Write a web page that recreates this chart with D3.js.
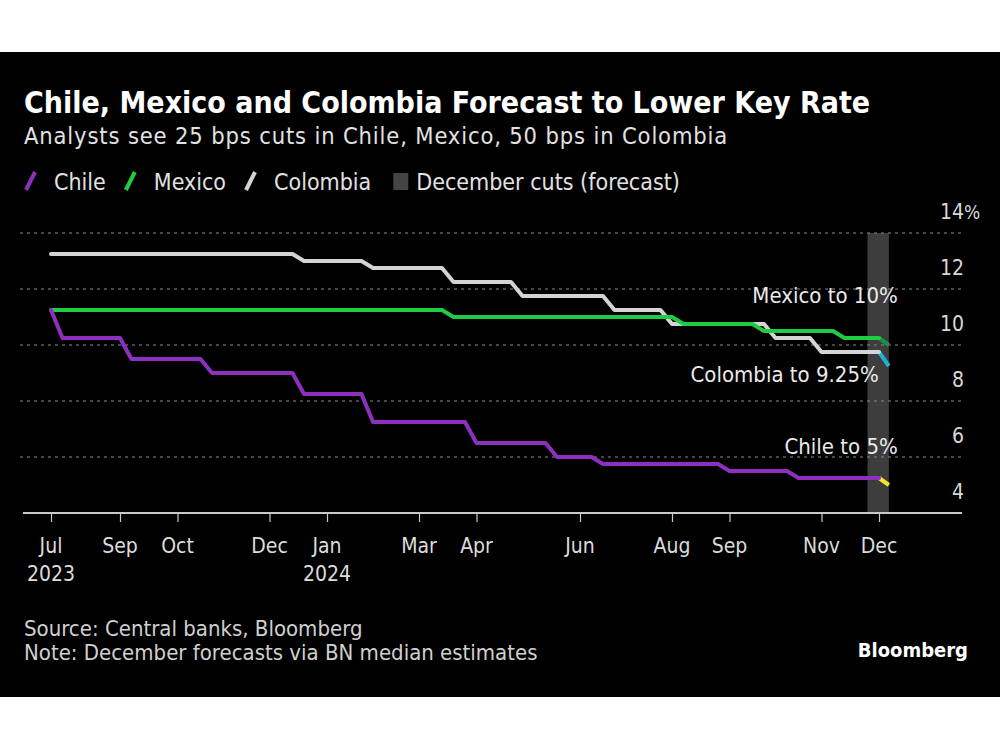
<!DOCTYPE html>
<html><head><meta charset="utf-8">
<script src="https://cdn.jsdelivr.net/npm/d3@7"></script>
<style>
html,body{margin:0;padding:0;background:#fff;}
svg text{font-family:"DejaVu Sans Condensed","DejaVu Sans",sans-serif;font-stretch:condensed;}
</style></head><body>
<svg id="chart" width="1000" height="750"></svg>
<script>
// ---------- DATA ----------
const seriesNames = ["Chile", "Mexico", "Colombia"];
const firstWeek = "2023-07-21";          // weekly observations (Fridays)
const lastActual = "2024-12-06";
const chileRates = [
  11.25,
  10.25,10.25,10.25,10.25,10.25,10.25,
  9.5,9.5,9.5,9.5,9.5,9.5,9.5,
  9.0,9.0,9.0,9.0,9.0,9.0,9.0,9.0,
  8.25,8.25,8.25,8.25,8.25,8.25,
  7.25,7.25,7.25,7.25,7.25,7.25,7.25,7.25,7.25,
  6.5,6.5,6.5,6.5,6.5,6.5,6.5,
  6.0,6.0,6.0,6.0,
  5.75,5.75,5.75,5.75,5.75,5.75,5.75,5.75,5.75,5.75,5.75,
  5.5,5.5,5.5,5.5,5.5,5.5,
  5.25,5.25,5.25,5.25,5.25,5.25,5.25,5.25
];
const mexicoRates = [
  11.25,11.25,11.25,11.25,11.25,11.25,11.25,11.25,11.25,11.25,
  11.25,11.25,11.25,11.25,11.25,11.25,11.25,11.25,11.25,11.25,
  11.25,11.25,11.25,11.25,11.25,11.25,11.25,11.25,11.25,11.25,
  11.25,11.25,11.25,11.25,11.25,
  11.0,11.0,11.0,11.0,11.0,11.0,11.0,11.0,11.0,11.0,
  11.0,11.0,11.0,11.0,11.0,11.0,11.0,11.0,11.0,11.0,
  10.75,10.75,10.75,10.75,10.75,10.75,10.75,
  10.5,10.5,10.5,10.5,10.5,10.5,10.5,
  10.25,10.25,10.25,10.25
];
const colombiaRates = [
  13.25,13.25,13.25,13.25,13.25,13.25,13.25,13.25,13.25,13.25,13.25,
  13.25,13.25,13.25,13.25,13.25,13.25,13.25,13.25,13.25,13.25,13.25,
  13.0,13.0,13.0,13.0,13.0,13.0,
  12.75,12.75,12.75,12.75,12.75,12.75,12.75,
  12.25,12.25,12.25,12.25,12.25,12.25,
  11.75,11.75,11.75,11.75,11.75,11.75,11.75,11.75,
  11.25,11.25,11.25,11.25,11.25,
  10.75,10.75,10.75,10.75,10.75,10.75,10.75,10.75,10.75,
  10.25,10.25,10.25,10.25,
  9.75,9.75,9.75,9.75,9.75,9.75
];
const forecastDate = "2024-12-12";
const forecastRates = [5.0, 10.0, 9.25];
const forecastLabels = ["Chile to 5%", "Mexico to 10%", "Colombia to 9.25%"];
const bandStart = "2024-11-29";
const bandEnd = "2024-12-12";
const tickDates = ["2023-07-21","2023-09-01","2023-10-06","2023-12-01","2024-01-05","2024-03-01",
                   "2024-04-05","2024-06-07","2024-08-02","2024-09-06","2024-11-01","2024-12-06"];
const tickLabels = ["Jul","Sep","Oct","Dec","Jan","Mar","Apr","Jun","Aug","Sep","Nov","Dec"];
const tickYears  = ["2023","","","","2024","","","","","","",""];
const yTicks = [4, 6, 8, 10, 12, 14];
const legendLabels = ["Chile", "Mexico", "Colombia", "December cuts (forecast)"];

// ---------- STYLE ----------
const lineColors = ["#8d2fbf", "#22cc42", "#d4d4d4"];
const forecastColors = ["#f2e52c", "#14914a", "#1fb0d4"];
const bandColor = "#3d3d3d";

const svg = d3.select("#chart");
const parse = d3.utcParse("%Y-%m-%d");

svg.append("rect").attr("x",0).attr("y",52).attr("width",1000).attr("height",645).attr("fill","#000");

const x = d3.scaleUtc().domain([parse(firstWeek), parse(lastActual)]).range([51, 879]);
const y = d3.scaleLinear().domain([4, 14]).range([513, 233]);

const weekDates = chileRates.map((_, i) => d3.utcDay.offset(parse(firstWeek), 7 * i));
const allRates = [chileRates, mexicoRates, colombiaRates];
const series = seriesNames.map((name, k) => ({
  name, color: lineColors[k], fcolor: forecastColors[k],
  values: allRates[k].map((v, i) => ({date: weekDates[i], value: v})),
  forecast: {date: parse(forecastDate), value: forecastRates[k]}
}));

// titles
svg.append("text").attr("x",24).attr("y",113).attr("fill","#fff")
  .attr("font-size",30).attr("font-weight","bold")
  .text("Chile, Mexico and Colombia Forecast to Lower Key Rate");
svg.append("text").attr("x",24).attr("y",144).attr("fill","#e2e2e2")
  .attr("font-size",23.5).attr("letter-spacing",0.85)
  .text("Analysts see 25 bps cuts in Chile, Mexico, 50 bps in Colombia");

// legend
const lg = svg.append("g");
let lx = 23;
legendLabels.forEach((lab, k) => {
  if (k < 3) {
    lg.append("line").attr("x1", lx + 3).attr("y1", 190).attr("x2", lx + 12).attr("y2", 172)
      .attr("stroke", lineColors[k]).attr("stroke-width", 4);
    const t = lg.append("text").attr("x", lx + 31).attr("y", 190).attr("fill","#e2e2e2")
      .attr("font-size", 23).text(lab);
    lx = lx + 31 + t.node().getComputedTextLength() + 17;
  } else {
    lx += 5;
    lg.append("rect").attr("x", lx).attr("y", 173).attr("width", 15).attr("height", 17).attr("fill", "#444");
    lg.append("text").attr("x", lx + 23).attr("y", 190).attr("fill","#e2e2e2")
      .attr("font-size", 23).text(lab);
  }
});

// band
svg.append("rect").attr("x", x(parse(bandStart))).attr("y", y(14))
  .attr("width", x(parse(bandEnd)) - x(parse(bandStart))).attr("height", y(4) - y(14))
  .attr("fill", bandColor);

// grid
const grid = svg.append("g");
yTicks.forEach(v => {
  if (v > 4) {
    grid.append("line").attr("x1", 20).attr("x2", 963).attr("y1", y(v)).attr("y2", y(v))
      .attr("stroke", "#8a8a8a").attr("stroke-width", 1).attr("stroke-dasharray", "3,4");
  }
  grid.append("text").attr("x", 964).attr("y", y(v) - 14).attr("text-anchor","end")
    .attr("fill","#d8d8d8").attr("font-size", 21).text(v);
  if (v === 14) {
    grid.append("text").attr("x", 964).attr("y", y(v) - 14).attr("fill","#d8d8d8")
      .attr("font-size", 19).text("%");
  }
});

// x axis
svg.append("line").attr("x1", 23).attr("x2", 962).attr("y1", y(4)).attr("y2", y(4))
  .attr("stroke", "#c8c8c8").attr("stroke-width", 2);
const xAxis = d3.axisBottom(x).tickValues(tickDates.map(parse)).tickSize(9).tickFormat("");
const xg = svg.append("g").attr("transform", `translate(0,${y(4)})`).call(xAxis);
xg.select(".domain").remove();
xg.selectAll(".tick line").attr("stroke", "#c8c8c8").attr("stroke-width", 1.2);
tickDates.forEach((d, i) => {
  svg.append("text").attr("x", x(parse(d))).attr("y", 553).attr("text-anchor","middle")
    .attr("fill","#dcdcdc").attr("font-size", 21).text(tickLabels[i]);
  if (tickYears[i]) {
    svg.append("text").attr("x", x(parse(d))).attr("y", 581).attr("text-anchor","middle")
      .attr("fill","#dcdcdc").attr("font-size", 21).text(tickYears[i]);
  }
});

// lines
const line = d3.line().x(d => x(d.date)).y(d => y(d.value));
[2, 1, 0].forEach(k => {
  const s = series[k];
  const last = s.values[s.values.length - 1];
  svg.append("path").datum([last, s.forecast]).attr("d", line)
    .attr("fill","none").attr("stroke", s.fcolor).attr("stroke-width", 4).attr("stroke-linecap","butt");
  svg.append("path").datum(s.values).attr("d", line)
    .attr("fill","none").attr("stroke", s.color).attr("stroke-width", 4)
    .attr("stroke-linejoin","round").attr("stroke-linecap","round");
});

// annotations
const fx = x(parse(forecastDate));
const ann = [
  {t: forecastLabels[1], x: fx + 9, y: y(forecastRates[1]) - 42},
  {t: forecastLabels[2], x: fx - 10, y: y(forecastRates[2]) + 16},
  {t: forecastLabels[0], x: fx + 9, y: y(forecastRates[0]) - 31}
];
ann.forEach(a => {
  svg.append("text").attr("x", a.x).attr("y", a.y).attr("text-anchor","end")
    .attr("fill","#eaeaea").attr("font-size", 22).text(a.t);
});

// footer
svg.append("text").attr("x",24).attr("y",636).attr("fill","#d0d0d0").attr("font-size",22)
  .text("Source: Central banks, Bloomberg");
svg.append("text").attr("x",24).attr("y",660).attr("fill","#d0d0d0").attr("font-size",22)
  .text("Note: December forecasts via BN median estimates");
svg.append("text").attr("x",968).attr("y",657).attr("text-anchor","end").attr("fill","#fff")
  .attr("font-size",20).attr("font-weight","bold").text("Bloomberg");
</script>
</body></html>
